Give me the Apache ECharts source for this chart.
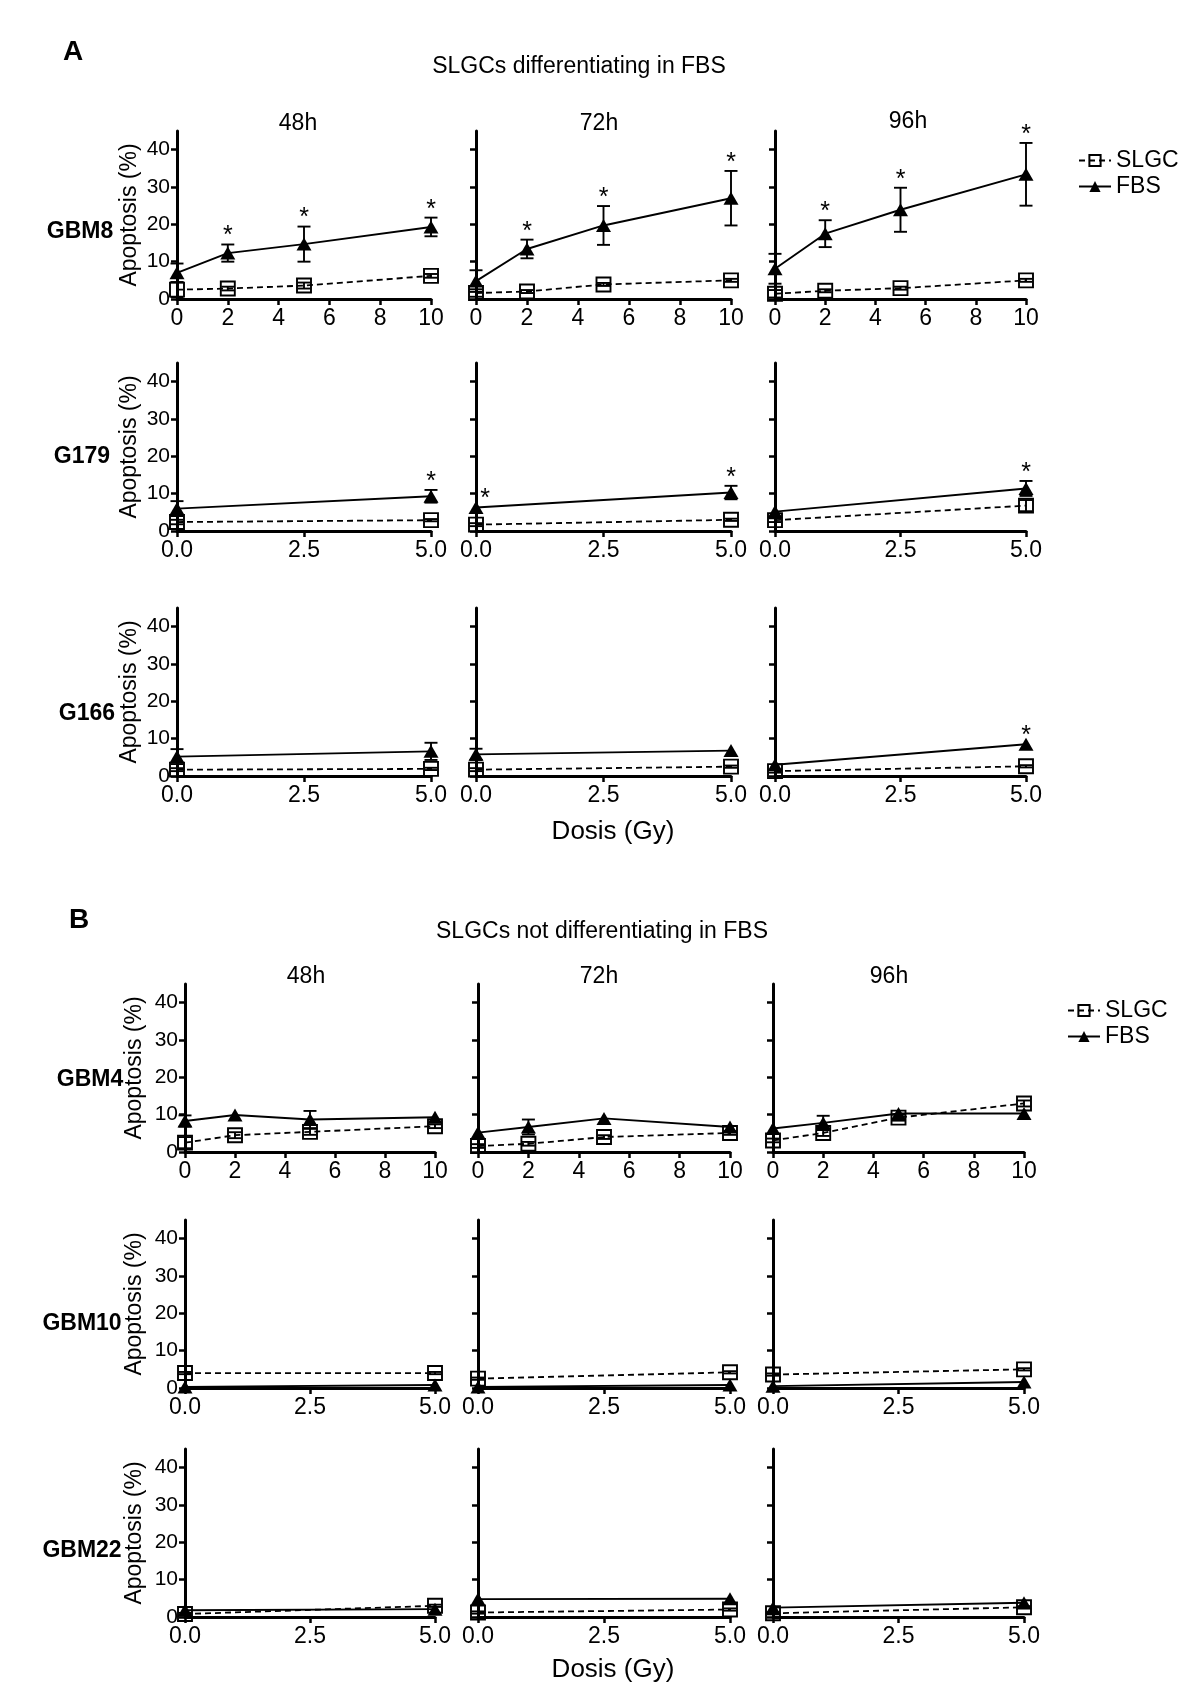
<!DOCTYPE html>
<html><head><meta charset="utf-8">
<script src="https://cdn.jsdelivr.net/npm/echarts@6/dist/echarts.min.js"></script>
<style>html,body{margin:0;padding:0;background:#fff}#c{width:1200px;height:1706px}</style>
</head><body><div id="c"></div>
<script>
// ---------- DATA ----------
const timepoints = ['48h', '72h', '96h'];
const dosesLong = [0, 2, 5, 10];
const dosesShort = [0, 5];
const yTicks = [0, 10, 20, 30, 40];

// Panel A: SLGCs differentiating in FBS  (per time point: 48h, 72h, 96h)
const gbm8FBS     = [[7.0, 12.3, 14.7, 19.3], [4.8, 13.4, 19.7, 27.0], [8.1, 17.5, 23.9, 33.4]];
const gbm8FBSErr  = [[2.5, 2.3, 4.7, 2.5], [2.9, 2.5, 5.2, 7.3], [4.0, 3.6, 5.9, 8.4]];
const gbm8SLGC    = [[2.5, 2.8, 3.6, 6.2], [1.6, 2.0, 3.9, 5.0], [1.4, 2.2, 2.9, 5.0]];
const gbm8SLGCErr = [[2.0, 0.5, 0.8, 0.5], [1.0, 0.4, 0.4, 0.4], [1.0, 0.4, 0.4, 0.4]];
const gbm8Stars   = [[2, 5, 10], [2, 5, 10], [2, 5, 10]];

const g179FBS     = [[6.0, 9.3], [6.3, 10.3], [5.2, 11.4]];
const g179FBSErr  = [[2.0, 1.7], [0, 1.8], [0, 2.0]];
const g179SLGC    = [[2.4, 2.9], [1.7, 3.0], [2.9, 6.8]];
const g179SLGCErr = [[0.6, 0.3], [0.4, 0.3], [0.5, 1.5]];
const g179Stars   = [[5], [0, 5], [5]];

const g166FBS     = [[5.2, 6.6], [5.8, 6.8], [3.0, 8.5]];
const g166FBSErr  = [[2.0, 2.3], [1.5, 0], [0, 0]];
const g166SLGC    = [[1.7, 1.9], [1.7, 2.5], [1.3, 2.6]];
const g166SLGCErr = [[0.4, 0.3], [0.4, 0.3], [0.4, 0.3]];
const g166Stars   = [[], [], [5]];

// Panel B: SLGCs not differentiating in FBS
const gbm4FBS     = [[8.3, 9.9, 8.7, 9.3], [5.2, 6.7, 9.0, 6.7], [6.3, 7.8, 10.3, 10.3]];
const gbm4FBSErr  = [[1.5, 0, 2.3, 0], [0, 2.0, 0, 0], [0, 1.9, 0, 0]];
const gbm4SLGC    = [[2.5, 4.5, 5.4, 6.9], [1.6, 2.2, 4.0, 5.1], [3.1, 5.1, 9.2, 13.0]];
const gbm4SLGCErr = [[1.5, 0.8, 0.8, 0.5], [0.5, 0.5, 0.5, 0.5], [0.5, 0.8, 0.8, 0.8]];
const gbm4Stars   = [[], [], []];

const gbm10FBS     = [[0.3, 0.8], [0.3, 0.8], [0.5, 1.6]];
const gbm10FBSErr  = [[0, 0], [0, 0], [0, 0]];
const gbm10SLGC    = [[4.0, 4.0], [2.5, 4.2], [3.6, 5.0]];
const gbm10SLGCErr = [[0.3, 0.3], [0.3, 0.3], [0.3, 0.3]];
const gbm10Stars   = [[], [], []];

const gbm22FBS     = [[1.8, 2.1], [4.8, 4.9], [2.5, 3.8]];
const gbm22FBSErr  = [[0, 0], [0, 0], [0, 0]];
const gbm22SLGC    = [[0.8, 3.0], [1.2, 2.0], [1.0, 2.6]];
const gbm22SLGCErr = [[0.3, 0.3], [0.3, 0.3], [0.3, 0.3]];
const gbm22Stars   = [[], [], []];

const rows = [
  {label: 'GBM8',  doses: dosesLong,  fbs: gbm8FBS,  fbsErr: gbm8FBSErr,  slgc: gbm8SLGC,  slgcErr: gbm8SLGCErr,  stars: gbm8Stars},
  {label: 'G179',  doses: dosesShort, fbs: g179FBS,  fbsErr: g179FBSErr,  slgc: g179SLGC,  slgcErr: g179SLGCErr,  stars: g179Stars},
  {label: 'G166',  doses: dosesShort, fbs: g166FBS,  fbsErr: g166FBSErr,  slgc: g166SLGC,  slgcErr: g166SLGCErr,  stars: g166Stars},
  {label: 'GBM4',  doses: dosesLong,  fbs: gbm4FBS,  fbsErr: gbm4FBSErr,  slgc: gbm4SLGC,  slgcErr: gbm4SLGCErr,  stars: gbm4Stars},
  {label: 'GBM10', doses: dosesShort, fbs: gbm10FBS, fbsErr: gbm10FBSErr, slgc: gbm10SLGC, slgcErr: gbm10SLGCErr, stars: gbm10Stars},
  {label: 'GBM22', doses: dosesShort, fbs: gbm22FBS, fbsErr: gbm22FBSErr, slgc: gbm22SLGC, slgcErr: gbm22SLGCErr, stars: gbm22Stars}
];

// ---------- LAYOUT ----------
const FF = '"Liberation Sans", Arial, Helvetica, sans-serif';
const gridTops = [131, 363, 608, 984, 1220, 1449];
const gridH = 168;
const colLeftA = [177, 476, 775], colWidthA = [254, 255, 251];
const colLeftB = [185, 478, 773], colWidthB = [250, 252, 251];
const rowLabelPos = [[80, 232], [82, 457], [87, 714], [90, 1080], [82, 1324], [82, 1551]];
const nameGaps = [36, 36, 36, 39, 39, 39];

const grids = [], xAxes = [], yAxes = [], series = [];

function errRender(params, api) {
  const x = api.value(0), y = api.value(1), e = api.value(2);
  if (!(e > 0)) return null;
  const top = api.coord([x, y + e]);
  const bot = api.coord([x, y - e]);
  const hw = 6.5;
  const st = {stroke: '#000', lineWidth: 1.9};
  return {type: 'group', children: [
    {type: 'line', shape: {x1: top[0], y1: top[1], x2: bot[0], y2: bot[1]}, style: st},
    {type: 'line', shape: {x1: top[0] - hw, y1: top[1], x2: top[0] + hw, y2: top[1]}, style: st},
    {type: 'line', shape: {x1: bot[0] - hw, y1: bot[1], x2: bot[0] + hw, y2: bot[1]}, style: st}
  ]};
}
function starRender(params, api) {
  const x = api.value(0), top = api.value(1);
  const p = api.coord([x, top]);
  return {type: 'text', x: p[0] + (x === 0 ? 9 : 0), y: p[1] - 8,
    style: {text: '*', fontSize: 25, fontFamily: FF, fill: '#000',
      align: 'center', verticalAlign: 'middle', textAlign: 'center', textVerticalAlign: 'middle'}};
}

const axisLineStyle = {color: '#000', width: 3};
rows.forEach((row, r) => {
  const isB = r >= 3;
  const long = row.doses.length > 2;
  for (let c = 0; c < 3; c++) {
    const idx = grids.length;
    grids.push({left: (isB ? colLeftB : colLeftA)[c], top: gridTops[r],
      width: (isB ? colWidthB : colWidthA)[c], height: gridH, containLabel: false});
    xAxes.push({gridIndex: idx, type: 'value', min: 0, max: long ? 10 : 5, interval: long ? 2 : 2.5,
      axisLine: {show: true, onZero: false, lineStyle: axisLineStyle},
      axisTick: {show: true, length: 6, lineStyle: {color: '#000', width: 2.5}},
      axisLabel: {fontSize: 23, color: '#000', fontFamily: FF, margin: 8,
        formatter: v => long ? String(v) : v.toFixed(1)},
      splitLine: {show: false}});
    yAxes.push({gridIndex: idx, type: 'value', min: 0, max: 45, interval: 5,
      axisLine: {show: true, onZero: false, lineStyle: axisLineStyle},
      axisTick: {show: true, length: 6, customValues: yTicks, lineStyle: {color: '#000', width: 2.5}},
      axisLabel: {show: c === 0, customValues: yTicks, fontSize: 21, color: '#000', fontFamily: FF, margin: 7},
      splitLine: {show: false},
      name: c === 0 ? 'Apoptosis (%)' : '', nameLocation: 'middle', nameGap: nameGaps[r],
      nameTextStyle: {fontSize: 23, color: '#000', fontFamily: FF}});

    const fbsErrData = row.doses.map((d, i) => [d, row.fbs[c][i], row.fbsErr[c][i]]);
    const slgcErrData = row.doses.map((d, i) => [d, row.slgc[c][i], row.slgcErr[c][i]]);
    series.push({type: 'custom', name: 'SLGC err', xAxisIndex: idx, yAxisIndex: idx, renderItem: errRender,
      data: slgcErrData, encode: {x: 0, y: 1}, silent: true, z: 3});
    series.push({type: 'custom', name: 'FBS err', xAxisIndex: idx, yAxisIndex: idx, renderItem: errRender,
      data: fbsErrData, encode: {x: 0, y: 1}, silent: true, z: 3});
    series.push({type: 'line', name: 'SLGC', xAxisIndex: idx, yAxisIndex: idx, clip: false,
      data: row.doses.map((d, i) => [d, row.slgc[c][i]]),
      symbol: 'rect', symbolSize: 14, showAllSymbol: true,
      lineStyle: {color: '#000', width: 1.8, type: [6, 4]},
      itemStyle: {color: 'rgba(255,255,255,0)', borderColor: '#000', borderWidth: 1.9}, z: 4});
    series.push({type: 'line', name: 'FBS', xAxisIndex: idx, yAxisIndex: idx, clip: false,
      data: row.doses.map((d, i) => [d, row.fbs[c][i]]),
      symbol: 'triangle', symbolSize: [15, 13], showAllSymbol: true,
      lineStyle: {color: '#000', width: 1.9, type: 'solid'},
      itemStyle: {color: '#000', borderColor: '#000', borderWidth: 0}, z: 5});
    const starData = row.stars[c].map(x => {
      const i = row.doses.indexOf(x);
      return [x, row.fbs[c][i] + row.fbsErr[c][i]];
    });
    if (starData.length) {
      series.push({type: 'custom', name: 'sig', xAxisIndex: idx, yAxisIndex: idx, renderItem: starRender,
        data: starData, encode: {x: 0, y: 1}, silent: true, z: 6});
    }
  }
});

function txt(text, x, y, size, weight) {
  return {type: 'text', x: x, y: y, silent: true,
    style: {text: text, fontSize: size, fontWeight: weight || 'normal', fontFamily: FF, fill: '#000',
      align: 'center', verticalAlign: 'middle', textAlign: 'center', textVerticalAlign: 'middle'}};
}
const graphics = [
  txt('A', 73, 52, 28, 'bold'),
  txt('SLGCs differentiating in FBS', 579, 67, 23),
  txt('B', 79, 920, 28, 'bold'),
  txt('SLGCs not differentiating in FBS', 602, 932, 23),
  txt('Dosis (Gy)', 613, 832, 26),
  txt('Dosis (Gy)', 613, 1670, 26)
];
const timePosA = [[298, 124], [599, 124], [908, 122]];
const timePosB = [[306, 977], [599, 977], [889, 977]];
timepoints.forEach((t, i) => {
  graphics.push(txt(t, timePosA[i][0], timePosA[i][1], 23));
  graphics.push(txt(t, timePosB[i][0], timePosB[i][1], 23));
});
rows.forEach((row, r) => graphics.push(txt(row.label, rowLabelPos[r][0], rowLabelPos[r][1], 23, 'bold')));

const legendBase = {orient: 'vertical', itemWidth: 32, itemHeight: 14, itemGap: 3,
  data: ['SLGC', 'FBS'], selectedMode: false,
  textStyle: {fontSize: 23, color: '#000', fontFamily: FF, padding: [0, 0, 0, 0]}};

const chart = echarts.init(document.getElementById('c'), null, {renderer: 'canvas'});
chart.setOption({
  animation: false,
  backgroundColor: '#fff',
  grid: grids, xAxis: xAxes, yAxis: yAxes, series: series,
  legend: [
    Object.assign({}, legendBase, {left: 1073, top: 144}),
    Object.assign({}, legendBase, {left: 1062, top: 994})
  ],
  graphic: graphics
});
</script></body></html>
